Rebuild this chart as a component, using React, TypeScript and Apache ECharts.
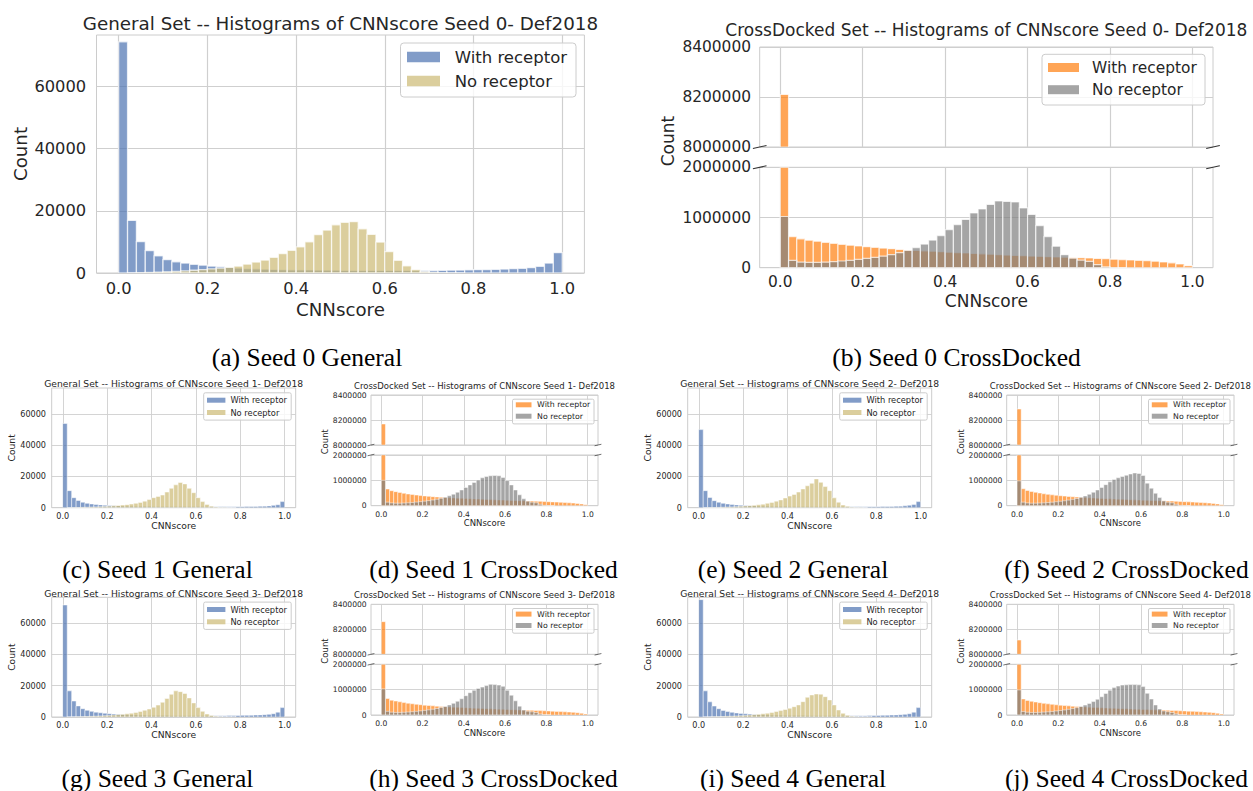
import { useEffect, useRef } from 'react';
import * as echarts from 'echarts';

// ---------- histogram counts (50 bins of width 0.02 over CNNscore 0..1) ----------

const general0With = [74300, 16900, 10100, 7200, 5500, 4300, 3600, 3200, 2800, 2500, 2200, 2000, 1800, 1600, 1450, 1350, 1250, 1150, 1100, 1050, 1000, 980, 950, 930, 900, 880, 870, 860, 850, 840, 840, 830, 820, 810, 800, 800, 860, 900, 950, 1000, 1070, 1100, 1150, 1280, 1390, 1500, 1710, 2140, 3200, 6520];
const general0Without = [0, 40, 90, 170, 280, 400, 540, 700, 880, 1100, 1350, 1550, 1850, 2200, 2850, 3500, 4150, 5050, 6250, 7300, 8400, 10050, 12350, 13800, 15500, 16300, 16500, 14200, 12400, 9950, 6900, 4100, 2300, 1100, 450, 180, 80, 30, 10, 0, 0, 0, 0, 0, 0, 0, 0, 0, 0, 0];

const general1With = [53800, 10900, 6400, 4600, 3500, 2800, 2400, 2000, 1800, 1600, 1400, 1250, 1100, 1000, 900, 850, 800, 760, 720, 690, 660, 640, 620, 600, 590, 580, 570, 560, 560, 550, 550, 550, 540, 540, 540, 550, 560, 580, 600, 630, 660, 700, 750, 820, 900, 1000, 1150, 1500, 1900, 3900];
const general1Without = [0, 30, 70, 130, 210, 300, 400, 520, 650, 800, 980, 1180, 1400, 1650, 1950, 2300, 2800, 3400, 4200, 5200, 6400, 7200, 8100, 10000, 12400, 14600, 16100, 15200, 12400, 9600, 6400, 3900, 2100, 1000, 420, 170, 70, 30, 10, 0, 0, 0, 0, 0, 0, 0, 0, 0, 0, 0];

const general2With = [49900, 10900, 6500, 4500, 3500, 2800, 2400, 2000, 1800, 1600, 1400, 1250, 1100, 1000, 920, 860, 800, 760, 720, 690, 660, 640, 620, 600, 590, 580, 570, 560, 560, 550, 550, 550, 540, 540, 540, 550, 560, 580, 600, 630, 660, 700, 760, 830, 900, 1000, 1200, 1600, 2100, 3900];
const general2Without = [0, 30, 70, 130, 200, 290, 390, 500, 650, 850, 1100, 1300, 1550, 1850, 2250, 2800, 3400, 4200, 5000, 6200, 7400, 8500, 10000, 12000, 14000, 15600, 18400, 16200, 13500, 10900, 6300, 3500, 1700, 850, 350, 130, 50, 20, 0, 0, 0, 0, 0, 0, 0, 0, 0, 0, 0, 0];

const general3With = [71600, 16700, 10200, 7100, 5300, 4300, 3600, 3100, 2700, 2400, 2100, 1900, 1700, 1550, 1400, 1300, 1200, 1120, 1060, 1010, 970, 940, 910, 890, 870, 860, 850, 840, 830, 830, 820, 820, 820, 810, 810, 800, 840, 880, 930, 980, 1040, 1100, 1150, 1250, 1350, 1500, 1700, 2100, 3100, 6000];
const general3Without = [0, 30, 70, 130, 210, 300, 400, 520, 660, 820, 1000, 1200, 1450, 1700, 2000, 2400, 2900, 3500, 4300, 5100, 6200, 7600, 9400, 11800, 14500, 16700, 16200, 15000, 12200, 9000, 6000, 3600, 1900, 1000, 450, 180, 70, 30, 10, 0, 0, 0, 0, 0, 0, 0, 0, 0, 0, 0];

const general4With = [75000, 16700, 9700, 7000, 5300, 4200, 3500, 3000, 2600, 2300, 2050, 1850, 1650, 1500, 1380, 1280, 1190, 1110, 1050, 1000, 960, 930, 900, 880, 860, 850, 840, 830, 830, 820, 820, 810, 810, 810, 800, 800, 830, 870, 920, 970, 1030, 1080, 1140, 1230, 1330, 1480, 1680, 2100, 3100, 6000];
const general4Without = [0, 30, 70, 130, 210, 300, 400, 520, 660, 820, 1000, 1200, 1450, 1700, 2000, 2400, 2900, 3500, 4100, 4800, 5600, 6600, 7700, 9800, 12600, 14100, 14700, 14600, 13000, 10900, 7700, 4500, 2350, 1070, 450, 180, 70, 30, 10, 0, 0, 0, 0, 0, 0, 0, 0, 0, 0, 0];

const cross0With = [8210000, 620000, 575000, 548000, 527000, 505000, 485000, 465000, 448000, 432000, 418000, 405000, 390000, 378000, 365000, 355000, 345000, 336000, 328000, 320000, 310000, 302000, 293000, 285000, 276000, 268000, 260000, 252000, 245000, 238000, 232000, 226000, 220000, 215000, 210000, 205000, 200000, 193000, 185000, 178000, 170000, 162000, 155000, 147000, 138000, 128000, 115000, 98000, 75000, 40000];
const cross0Without = [1020000, 147000, 113000, 105000, 105000, 110000, 120000, 133000, 147000, 165000, 185000, 205000, 230000, 262000, 300000, 345000, 400000, 470000, 550000, 640000, 760000, 860000, 960000, 1090000, 1170000, 1260000, 1330000, 1320000, 1310000, 1190000, 1060000, 840000, 620000, 427000, 260000, 190000, 150000, 125000, 60000, 15000, 3000, 1000, 0, 0, 0, 0, 0, 0, 0, 0];

const cross1With = [8168000, 658000, 592000, 555000, 525000, 490000, 462000, 440000, 420000, 400000, 385000, 370000, 357000, 345000, 334000, 324000, 315000, 306000, 298000, 290000, 282000, 275000, 268000, 261000, 254000, 247000, 240000, 234000, 228000, 222000, 216000, 210000, 205000, 200000, 195000, 190000, 184000, 178000, 171000, 164000, 157000, 150000, 142000, 134000, 125000, 115000, 103000, 88000, 68000, 38000];
const cross1Without = [1000000, 140000, 110000, 100000, 100000, 105000, 115000, 128000, 142000, 160000, 180000, 200000, 225000, 255000, 290000, 335000, 390000, 455000, 530000, 620000, 720000, 820000, 920000, 1010000, 1100000, 1150000, 1180000, 1190000, 1180000, 1110000, 990000, 820000, 620000, 430000, 270000, 180000, 140000, 115000, 55000, 14000, 3000, 1000, 0, 0, 0, 0, 0, 0, 0, 0];

const cross2With = [8288000, 667000, 600000, 560000, 530000, 500000, 470000, 448000, 428000, 410000, 393000, 378000, 364000, 352000, 340000, 330000, 320000, 311000, 302000, 294000, 286000, 278000, 271000, 264000, 257000, 250000, 243000, 237000, 231000, 225000, 219000, 213000, 208000, 203000, 198000, 193000, 187000, 181000, 174000, 167000, 160000, 152000, 144000, 136000, 127000, 117000, 105000, 90000, 70000, 40000];
const cross2Without = [980000, 140000, 110000, 100000, 100000, 105000, 113000, 125000, 138000, 155000, 175000, 195000, 220000, 250000, 285000, 330000, 385000, 450000, 530000, 620000, 720000, 830000, 940000, 1030000, 1100000, 1150000, 1200000, 1250000, 1290000, 1270000, 1190000, 890000, 690000, 490000, 320000, 190000, 140000, 115000, 55000, 14000, 3000, 1000, 0, 0, 0, 0, 0, 0, 0, 0];

const cross3With = [8261000, 650000, 585000, 550000, 520000, 490000, 465000, 443000, 423000, 405000, 389000, 375000, 362000, 350000, 339000, 329000, 319000, 310000, 301000, 293000, 285000, 277000, 270000, 263000, 256000, 249000, 242000, 236000, 230000, 224000, 218000, 212000, 207000, 202000, 197000, 192000, 186000, 180000, 173000, 166000, 159000, 151000, 143000, 135000, 126000, 116000, 104000, 89000, 69000, 39000];
const cross3Without = [1030000, 145000, 112000, 102000, 102000, 107000, 117000, 130000, 144000, 162000, 182000, 203000, 228000, 258000, 295000, 340000, 395000, 460000, 540000, 640000, 760000, 880000, 975000, 1050000, 1100000, 1160000, 1210000, 1200000, 1180000, 1130000, 975000, 780000, 560000, 350000, 195000, 150000, 125000, 95000, 40000, 10000, 2000, 0, 0, 0, 0, 0, 0, 0, 0, 0];

const cross4With = [8114000, 632000, 575000, 540000, 512000, 485000, 460000, 440000, 420000, 402000, 387000, 373000, 360000, 348000, 337000, 327000, 318000, 309000, 300000, 292000, 284000, 277000, 270000, 263000, 256000, 249000, 243000, 237000, 231000, 225000, 219000, 213000, 208000, 203000, 198000, 193000, 187000, 181000, 174000, 167000, 160000, 152000, 144000, 136000, 127000, 117000, 105000, 90000, 70000, 40000];
const cross4Without = [990000, 140000, 110000, 100000, 100000, 105000, 114000, 126000, 140000, 158000, 178000, 199000, 224000, 254000, 290000, 335000, 390000, 455000, 530000, 620000, 720000, 850000, 980000, 1080000, 1140000, 1180000, 1190000, 1200000, 1200000, 1190000, 1120000, 855000, 630000, 395000, 237000, 160000, 130000, 100000, 45000, 12000, 2000, 0, 0, 0, 0, 0, 0, 0, 0, 0];

// ---------- axes ----------
const BIN_WIDTH = 0.02;
const X_MIN = -0.05;
const X_MAX = 1.05;
const X_TICKS = [0, 0.2, 0.4, 0.6, 0.8, 1.0];
const GENERAL_Y_MAX = 76500;
const GENERAL_Y_TICKS = [0, 20000, 40000, 60000];
const UPPER_Y_RANGE = [8000000, 8400000];
const UPPER_Y_TICKS = [8000000, 8200000, 8400000];
const LOWER_Y_RANGE = [0, 2000000];
const LOWER_Y_TICKS = [0, 1000000, 2000000];
const SERIES_NAMES = ['With receptor', 'No receptor'];

// ---------- look ----------
const SANS = 'DejaVu Sans';
const SERIF = 'Liberation Serif';
const INK = '#262626';
const GRID_LINE = '#cfcfcf';
const FRAME = '#cccccc';
const BLUE = '#4c72b0';
const TAN = '#ccb974';
const ORANGE = '#ff7f0e';
const GREY = '#7f7f7f';
const BAR_ALPHA = 0.7;
const CAPTION_SIZE = 25.5;

interface Look {
  tick: number; label: number; title: number; legend: number;
  xMargin: number; yMargin: number; xNameGap: number; yNameGap: number;
  titleDy: number; edge: number; line: number;
  legendW: number; legendH: number; legendRight: number; legendTop: number;
  patchDx: number; patchW: number; patchH: number; rowDy: number[]; textDx: number;
  countDx: number; countDy: number; breakWidth: number;
}

const BIG_GENERAL: Look = {
  tick: 16.3, label: 18.2, title: 18.3, legend: 16.5,
  xMargin: 7, yMargin: 10.3, xNameGap: 27, yNameGap: 67.5,
  titleDy: -11.7, edge: 1.3, line: 1.2,
  legendW: 175.5, legendH: 54, legendRight: 8.4, legendTop: 8,
  patchDx: 6.5, patchW: 33, patchH: 10.7, rowDy: [14, 38], textDx: 54.2,
  countDx: 0, countDy: 0, breakWidth: 1,
};
const SMALL_GENERAL: Look = {
  tick: 8.1, label: 9.2, title: 9.2, legend: 8.3,
  xMargin: 4, yMargin: 5.7, xNameGap: 12.7, yNameGap: 34,
  titleDy: -4.3, edge: 0.7, line: 0.9,
  legendW: 87.5, legendH: 27.3, legendRight: 4.5, legendTop: 4.8,
  patchDx: 3.3, patchW: 18.4, patchH: 5, rowDy: [7.4, 19.7], textDx: 26.7,
  countDx: 0, countDy: 0, breakWidth: 0.7,
};
// the long titles of the broken-axis panels sit a little higher so they clear the top tick label
const BIG_CROSS: Look = {
  tick: 15.4, label: 17, title: 17, legend: 15.4,
  xMargin: 7, yMargin: 8.7, xNameGap: 25, yNameGap: 0,
  titleDy: -17, edge: 1.2, line: 1.2,
  legendW: 163, legendH: 50.7, legendRight: 8, legendTop: 7.3,
  patchDx: 6, patchW: 31, patchH: 9, rowDy: [13.2, 35.4], textDx: 50,
  countDx: -91.7, countDy: 94, breakWidth: 1.1,
};
const SMALL_CROSS: Look = {
  tick: 7.6, label: 8.5, title: 8.5, legend: 7.8,
  xMargin: 4.3, yMargin: 4.3, xNameGap: 12.4, yNameGap: 0,
  titleDy: -9, edge: 0.7, line: 0.9,
  legendW: 81.5, legendH: 24.7, legendRight: 4, legendTop: 4.2,
  patchDx: 3.3, patchW: 15.7, patchH: 5, rowDy: [5.6, 17], textDx: 24.6,
  countDx: -46, countDy: 46.7, breakWidth: 0.7,
};

interface Rect { left: number; top: number; width: number; height: number }

const GENERAL_PANELS = [
  { seed: 0, letter: 'a', withR: general0With, noR: general0Without, look: BIG_GENERAL, box: { left: 96.5, top: 35, width: 487.9, height: 238 }, caption: [307, 357] },
  { seed: 1, letter: 'c', withR: general1With, noR: general1Without, look: SMALL_GENERAL, box: { left: 51.7, top: 388, width: 244, height: 119.7 }, caption: [157.5, 569] },
  { seed: 2, letter: 'e', withR: general2With, noR: general2Without, look: SMALL_GENERAL, box: { left: 687.7, top: 388, width: 244, height: 119.7 }, caption: [793, 569] },
  { seed: 3, letter: 'g', withR: general3With, noR: general3Without, look: SMALL_GENERAL, box: { left: 51.7, top: 597.3, width: 244, height: 119.7 }, caption: [157.5, 778] },
  { seed: 4, letter: 'i', withR: general4With, noR: general4Without, look: SMALL_GENERAL, box: { left: 687.7, top: 597.3, width: 244, height: 119.7 }, caption: [793, 778] },
];

const CROSS_PANELS = [
  { seed: 0, letter: 'b', withR: cross0With, noR: cross0Without, look: BIG_CROSS, upper: { left: 759.7, top: 47, width: 453.3, height: 100 }, lower: { left: 759.7, top: 167.3, width: 453.3, height: 100.4 }, caption: [956.5, 357] },
  { seed: 1, letter: 'd', withR: cross1With, noR: cross1Without, look: SMALL_CROSS, upper: { left: 371, top: 395, width: 227, height: 50 }, lower: { left: 371, top: 455, width: 227, height: 50.7 }, caption: [493.5, 569] },
  { seed: 2, letter: 'f', withR: cross2With, noR: cross2Without, look: SMALL_CROSS, upper: { left: 1006.7, top: 395, width: 227.3, height: 50 }, lower: { left: 1006.7, top: 455, width: 227.3, height: 50.7 }, caption: [1126.5, 569] },
  { seed: 3, letter: 'h', withR: cross3With, noR: cross3Without, look: SMALL_CROSS, upper: { left: 371, top: 604.3, width: 227, height: 50 }, lower: { left: 371, top: 664.3, width: 227, height: 50.7 }, caption: [493.5, 778] },
  { seed: 4, letter: 'j', withR: cross4With, noR: cross4Without, look: SMALL_CROSS, upper: { left: 1006.7, top: 604.3, width: 227.3, height: 50 }, lower: { left: 1006.7, top: 664.3, width: 227.3, height: 50.7 }, caption: [1126.5, 778] },
];

// [binStart, binEnd, count] rows for a histogram
function binned(counts: number[]) {
  return counts.map((c, i) => [i * BIN_WIDTH, (i + 1) * BIN_WIDTH, c]);
}

function buildOption() {
  const grids: any[] = [];
  const xAxes: any[] = [];
  const yAxes: any[] = [];
  const series: any[] = [];
  const elements: any[] = [];

  const addGrid = (r: Rect, look: Look, yRange: number[], yTicks: number[], showX: boolean, xName: string, yName: string) => {
    const gi = grids.length;
    grids.push({
      left: r.left, top: r.top, width: r.width, height: r.height,
      show: true, borderColor: FRAME, borderWidth: 1, backgroundColor: 'rgba(0,0,0,0)',
      containLabel: false, outerBoundsMode: 'none',
    });
    xAxes.push({
      type: 'value', gridIndex: gi, min: X_MIN, max: X_MAX,
      axisLine: { show: false },
      axisTick: { show: false, customValues: X_TICKS },
      axisLabel: {
        show: showX, customValues: X_TICKS, formatter: (v: number) => v.toFixed(1),
        fontFamily: SANS, fontSize: look.tick, color: INK, margin: look.xMargin,
      },
      splitLine: { show: true, lineStyle: { color: GRID_LINE, width: look.line } },
      name: xName, nameLocation: 'middle', nameGap: look.xNameGap,
      nameTextStyle: { fontFamily: SANS, fontSize: look.label, color: INK },
    });
    yAxes.push({
      type: 'value', gridIndex: gi, min: yRange[0], max: yRange[1],
      axisLine: { show: false },
      axisTick: { show: false, customValues: yTicks },
      axisLabel: {
        customValues: yTicks, formatter: (v: number) => String(Math.round(v)),
        fontFamily: SANS, fontSize: look.tick, color: INK, margin: look.yMargin,
      },
      splitLine: { show: true, lineStyle: { color: GRID_LINE, width: look.line } },
      name: yName, nameLocation: 'middle', nameGap: look.yNameGap,
      nameTextStyle: { fontFamily: SANS, fontSize: look.label, color: INK },
    });
    return gi;
  };

  const addBars = (name: string, gi: number, counts: number[], color: string, look: Look, yRange: number[]) => {
    series.push({
      type: 'custom', name, coordinateSystem: 'cartesian2d',
      xAxisIndex: gi, yAxisIndex: gi, silent: true, clip: true,
      encode: { x: [0, 1], y: 2 },
      data: binned(counts),
      renderItem: (_params: any, api: any) => {
        const v = api.value(2);
        if (v <= yRange[0]) return null;
        const top = Math.min(v, yRange[1]);
        const p0 = api.coord([api.value(0), top]);
        const p1 = api.coord([api.value(1), yRange[0]]);
        return {
          type: 'rect',
          shape: { x: p0[0], y: p0[1], width: p1[0] - p0[0], height: p1[1] - p0[1] },
          style: { fill: color, stroke: '#ffffff', lineWidth: look.edge, opacity: BAR_ALPHA },
        };
      },
    });
  };

  const addText = (text: string, x: number, y: number, size: number, family: string, color: string, rotation = 0, align = 'center') => {
    elements.push({
      type: 'text', x, y, rotation, z: 120,
      style: { text, fontSize: size, fontFamily: family, fill: color, align, verticalAlign: 'middle' },
    });
  };

  const addLegend = (r: Rect, look: Look, colors: string[]) => {
    const bx = r.left + r.width - look.legendRight - look.legendW;
    const by = r.top + look.legendTop;
    elements.push({
      type: 'rect', z: 110,
      shape: { x: bx, y: by, width: look.legendW, height: look.legendH, r: look.legend * 0.2 },
      style: { fill: 'rgba(255,255,255,0.8)', stroke: FRAME, lineWidth: 1 },
    });
    SERIES_NAMES.forEach((name, k) => {
      const cy = by + look.rowDy[k];
      elements.push({
        type: 'rect', z: 111,
        shape: { x: bx + look.patchDx, y: cy - look.patchH / 2, width: look.patchW, height: look.patchH },
        style: { fill: colors[k], opacity: BAR_ALPHA },
      });
      addText(name, bx + look.textDx, cy, look.legend, SANS, INK, 0, 'left');
    });
  };

  GENERAL_PANELS.forEach((p) => {
    const look = p.look;
    const gi = addGrid(p.box, look, [0, GENERAL_Y_MAX], GENERAL_Y_TICKS, true, 'CNNscore', 'Count');
    addBars(SERIES_NAMES[0], gi, p.withR, BLUE, look, [0, GENERAL_Y_MAX]);
    addBars(SERIES_NAMES[1], gi, p.noR, TAN, look, [0, GENERAL_Y_MAX]);
    addText(`General Set -- Histograms of CNNscore Seed ${p.seed}- Def2018`,
      p.box.left + p.box.width / 2, p.box.top + look.titleDy, look.title, SANS, INK);
    addLegend(p.box, look, [BLUE, TAN]);
    addText(`(${p.letter}) Seed ${p.seed} General`, p.caption[0], p.caption[1], CAPTION_SIZE, SERIF, '#000000');
  });

  CROSS_PANELS.forEach((p) => {
    const look = p.look;
    const gu = addGrid(p.upper, look, UPPER_Y_RANGE, UPPER_Y_TICKS, false, '', '');
    addBars(SERIES_NAMES[0], gu, p.withR, ORANGE, look, UPPER_Y_RANGE);
    addBars(SERIES_NAMES[1], gu, p.noR, GREY, look, UPPER_Y_RANGE);
    const gl = addGrid(p.lower, look, LOWER_Y_RANGE, LOWER_Y_TICKS, true, 'CNNscore', '');
    addBars(SERIES_NAMES[0], gl, p.withR, ORANGE, look, LOWER_Y_RANGE);
    addBars(SERIES_NAMES[1], gl, p.noR, GREY, look, LOWER_Y_RANGE);

    addText(`CrossDocked Set -- Histograms of CNNscore Seed ${p.seed}- Def2018`,
      p.upper.left + p.upper.width / 2, p.upper.top + look.titleDy, look.title, SANS, INK);
    addText('Count', p.upper.left + look.countDx, p.upper.top + look.countDy, look.label, SANS, INK, Math.PI / 2);
    addLegend(p.upper, look, [ORANGE, GREY]);

    // diagonal marks where the y axis is broken
    const L = p.upper.left;
    const R = p.upper.left + p.upper.width;
    const dx = 0.015 * p.upper.width;
    const edges = [
      [p.upper.top + p.upper.height, 0.015 * p.upper.height],
      [p.lower.top, 0.015 * p.lower.height],
    ];
    edges.forEach(([y, dy]) => {
      [L, R].forEach((x) => {
        elements.push({
          type: 'line', z: 115,
          shape: { x1: x - dx, y1: y + dy, x2: x + dx, y2: y - dy },
          style: { stroke: '#333333', lineWidth: look.breakWidth },
        });
      });
    });

    addText(`(${p.letter}) Seed ${p.seed} CrossDocked`, p.caption[0], p.caption[1], CAPTION_SIZE, SERIF, '#000000');
  });

  return {
    animation: false,
    backgroundColor: '#ffffff',
    textStyle: { fontFamily: SANS },
    grid: grids,
    xAxis: xAxes,
    yAxis: yAxes,
    series,
    graphic: { elements },
  };
}

export default function App() {
  const ref = useRef<HTMLDivElement>(null);
  useEffect(() => {
    if (!ref.current) return;
    const chart = echarts.init(ref.current, null, { renderer: 'svg' });
    chart.setOption(buildOption() as any);
    return () => chart.dispose();
  }, []);
  return (
    <div
      ref={ref}
      style={{ position: 'absolute', left: 0, top: 0, width: 1253, height: 791, background: '#ffffff' }}
    />
  );
}
